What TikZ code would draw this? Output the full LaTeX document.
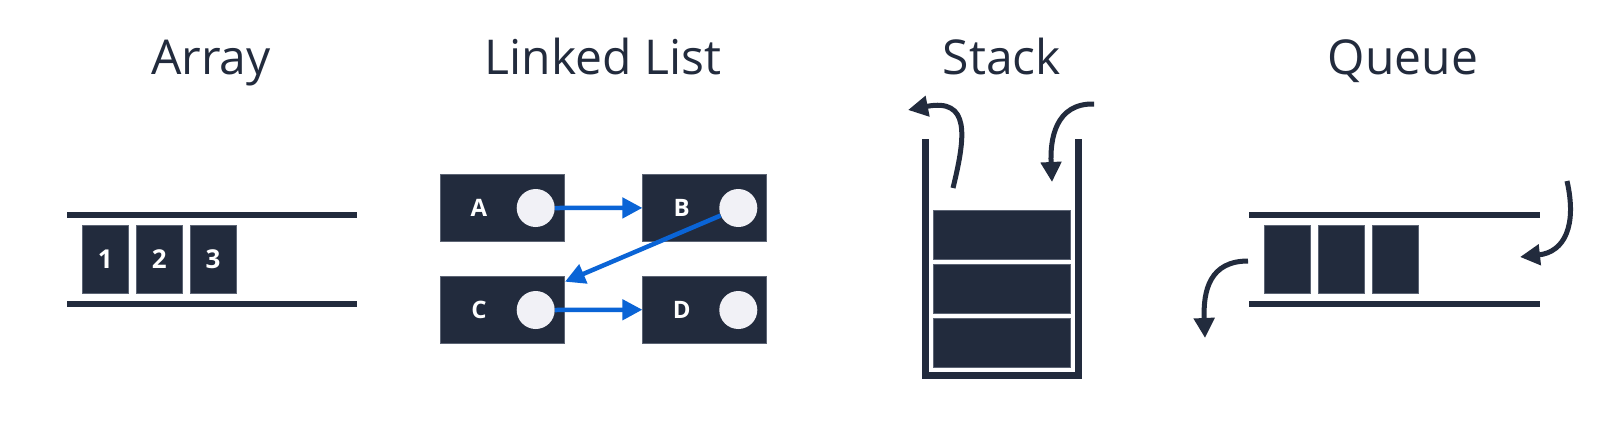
\documentclass[tikz,border=0pt]{standalone}
\usepackage{fontspec}
\setmainfont{Open Sans}
\usetikzlibrary{arrows.meta}
\definecolor{ink}{HTML}{222B3D}
\definecolor{edge}{HTML}{5C6474}
\definecolor{link}{HTML}{0A64D6}
\definecolor{dot}{HTML}{F1F1F6}
\begin{document}
\begin{tikzpicture}[x=1pt,y=-1pt,
  title/.style={anchor=base, text=ink, inner sep=0pt, font=\fontsize{48}{56}\selectfont},
  cell/.style={fill=ink, draw=edge, line width=0.6pt, minimum width=46pt, minimum height=68pt, inner sep=0pt, text=white, font=\bfseries\fontsize{26}{30}\selectfont},
  lnode/.style={fill=ink, draw=edge, line width=0.6pt, minimum width=124pt, minimum height=67.5pt, inner sep=0pt},
  lbl/.style={text=white, inner sep=0pt, font=\bfseries\fontsize{24}{28}\selectfont},
  ptr/.style={circle, fill=dot, minimum size=38pt, inner sep=0pt},
  sbox/.style={fill=ink, draw=edge, line width=0.6pt, minimum width=137pt, minimum height=49pt, inner sep=0pt},
  rail/.style={draw=ink, line width=6pt},
  barr/.style={draw=link, line width=4.5pt, -{Triangle[length=20pt,width=20pt]}},
  darr/.style={draw=ink, line width=5pt, -{Triangle[length=20pt,width=20pt]}},
]
\useasboundingbox (0,0) rectangle (1620,429);
\fill[white] (0,0) rectangle (1620,429);

% titles
\node[title] (tArray) at (211,74) {Array};
\node[title] (tList) at (603,74) {Linked List};
\node[title] (tStack) at (1002,74) {Stack};
\node[title] (tQueue) at (1403,74) {Queue};

% Array
\draw[rail] (67,214.7) -- (357,214.7);
\draw[rail] (67,303.5) -- (357,303.5);
\node[cell] (a1) at (105.3,258.9) {1};
\node[cell] (a2) at (159.2,258.9) {2};
\node[cell] (a3) at (213,258.9) {3};

% Linked list
\node[lnode] (nA) at (502,207.9) {};
\node[lnode] (nB) at (704.7,207.9) {};
\node[lnode] (nC) at (502,309.7) {};
\node[lnode] (nD) at (704.7,309.7) {};
\node[lbl] (lA) at (479,208) {A};
\node[lbl] (lB) at (681.7,208) {B};
\node[lbl] (lC) at (479,310) {C};
\node[lbl] (lD) at (681.7,310) {D};
\node[ptr] (pA) at (535.7,208) {};
\node[ptr] (pB) at (738.3,208) {};
\node[ptr] (pC) at (535.7,310) {};
\node[ptr] (pD) at (738.3,310) {};
\coordinate (cTip) at (565,281.7);
\draw[barr] (pA.east) -- (nB.west);
\draw[barr] (pB) -- (cTip);
\draw[barr] (pC.east) -- (nD.west);

% Stack
\draw[draw=ink, line width=7pt, line join=miter] (925.3,139) -- (925.3,375.5) -- (1078,375.5) -- (1078,139);
\node[sbox] (s1) at (1001.4,235) {};
\node[sbox] (s2) at (1001.4,289) {};
\node[sbox] (s3) at (1001.4,343.2) {};
\coordinate (popS) at (953,188);
\coordinate (popE) at (908,110);
\draw[darr] (popS) .. controls (966,135) and (970,98) .. (popE);
\coordinate (pushS) at (1094,104);
\coordinate (pushE) at (1052,182);
\draw[darr] (pushS) .. controls (1055,103) and (1050,140) .. (pushE);

% Queue
\draw[rail] (1249,214.7) -- (1540,214.7);
\draw[rail] (1249,303.7) -- (1540,303.7);
\node[cell] (q1) at (1287.5,258.9) {};
\node[cell] (q2) at (1341.3,258.9) {};
\node[cell] (q3) at (1395.3,258.9) {};
\coordinate (enqS) at (1567,181);
\coordinate (enqE) at (1520,257);
\draw[darr] (enqS) .. controls (1577,225) and (1565,252) .. (enqE);
\coordinate (deqS) at (1248,261);
\coordinate (deqE) at (1205,338);
\draw[darr] (deqS) .. controls (1210,261) and (1203,290) .. (deqE);
\end{tikzpicture}
\end{document}
